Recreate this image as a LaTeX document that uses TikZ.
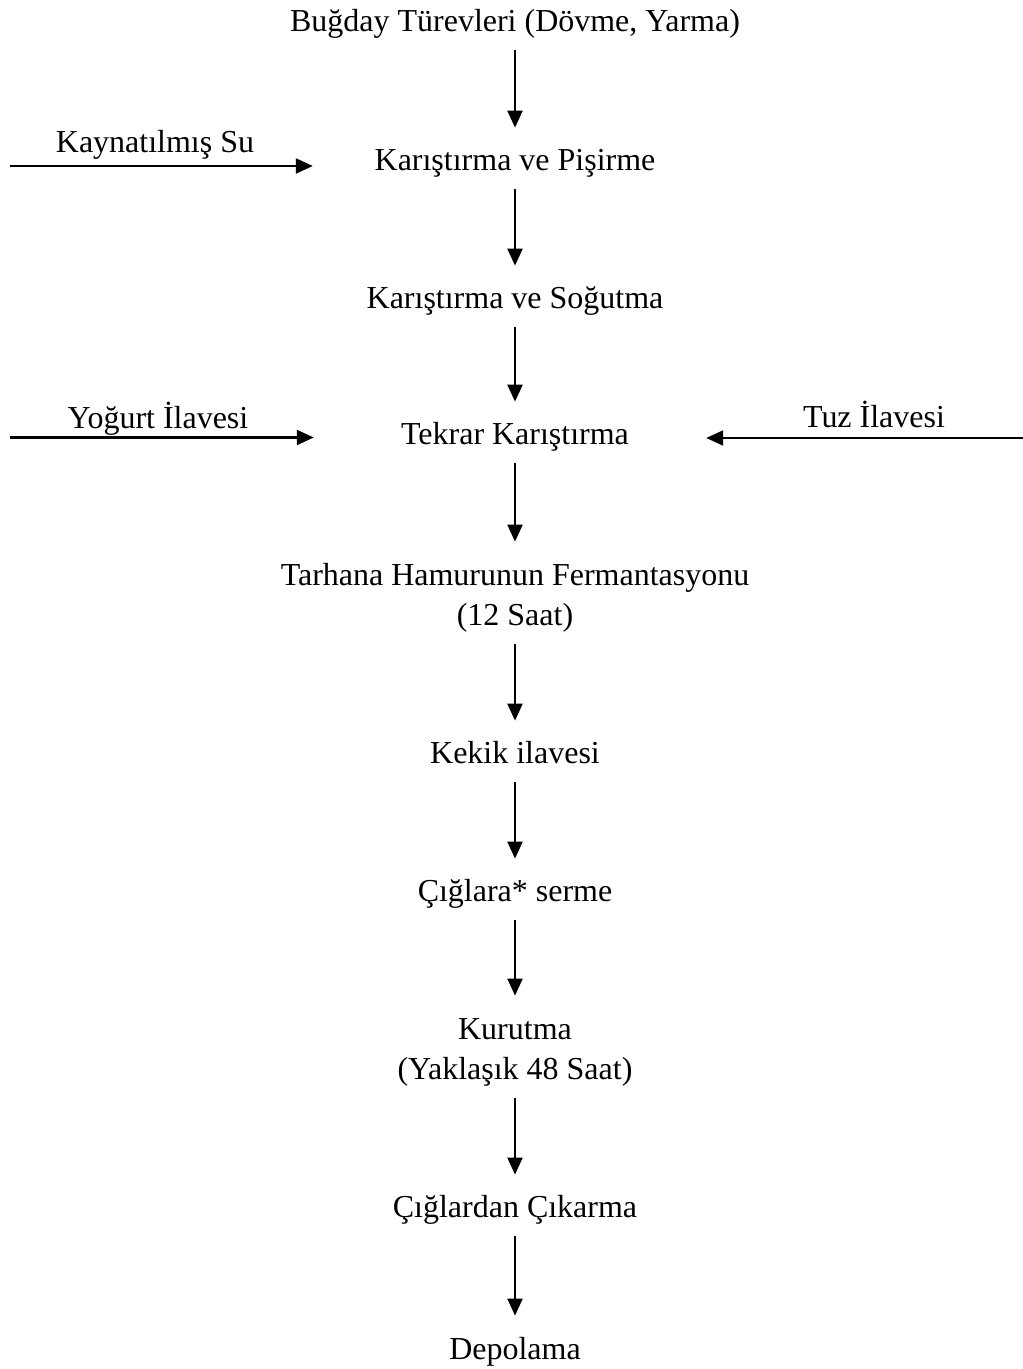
\documentclass[tikz,border=0pt]{standalone}
\usepackage{fontspec}
\setmainfont{Liberation Serif}
\usetikzlibrary{arrows.meta}

\begin{document}
\begin{tikzpicture}[
        font=\fontsize{18.2pt}{23.3pt}\selectfont,
        stage/.style={anchor=base, inner xsep=0pt, inner ysep=0.2cm, text height=0.66cm, text depth=0.15cm},
        twoline/.style={stage, align=center, text height=1.48cm},
        sidetext/.style={anchor=base, inner sep=0pt},
        flow/.style={-{Triangle[length=0.34cm,width=0.3cm]}, line width=1.2pt}
    ]
        \useasboundingbox (0,0) rectangle (20.46,27.38);

        \node[stage] (bugday) at (10.3,26.74) {Buğday Türevleri (Dövme, Yarma)};
        \node[stage] (pisirme) at (10.3,23.96) {Karıştırma ve Pişirme};
        \node[stage] (sogutma) at (10.3,21.20) {Karıştırma ve Soğutma};
        \node[stage] (tekrar) at (10.3,18.48) {Tekrar Karıştırma};
        \node[twoline] (fermantasyon) at (10.3,14.86) {Tarhana Hamurunun Fermantasyonu\\(12 Saat)};
        \node[stage] (kekik) at (10.3,12.10) {Kekik ilavesi};
        \node[stage] (serme) at (10.3,9.34) {Çığlara* serme};
        \node[twoline] (kurutma) at (10.3,5.78) {Kurutma\\(Yaklaşık 48 Saat)};
        \node[stage] (cikarma) at (10.3,3.02) {Çığlardan Çıkarma};
        \node[stage] (depolama) at (10.3,0.20) {Depolama};

        \node[sidetext] (sutext) at (3.10,24.32) {Kaynatılmış Su};
        \node[sidetext] (yogurttext) at (3.16,18.80) {Yoğurt İlavesi};
        \node[sidetext] (tuztext) at (17.48,18.83) {Tuz İlavesi};
        \coordinate (su) at (0.2,24.06);
        \coordinate (yogurt) at (0.2,18.63);
        \coordinate (tuz) at (20.46,18.62);

        \draw[flow] (bugday) -- (pisirme);
        \draw[flow] (pisirme) -- (sogutma);
        \draw[flow] (sogutma) -- (tekrar);
        \draw[flow] (tekrar) -- (fermantasyon);
        \draw[flow] (fermantasyon) -- (kekik);
        \draw[flow] (kekik) -- (serme);
        \draw[flow] (serme) -- (kurutma);
        \draw[flow] (kurutma) -- (cikarma);
        \draw[flow] (cikarma) -- (depolama);

        \draw[flow, shorten >=1.23cm] (su) -- (su -| pisirme.west);
        \draw[flow, shorten >=1.74cm] (yogurt) -- (yogurt -| tekrar.west);
        \draw[flow, shorten >=1.54cm] (tuz) -- (tuz -| tekrar.east);
\end{tikzpicture}
\end{document}
